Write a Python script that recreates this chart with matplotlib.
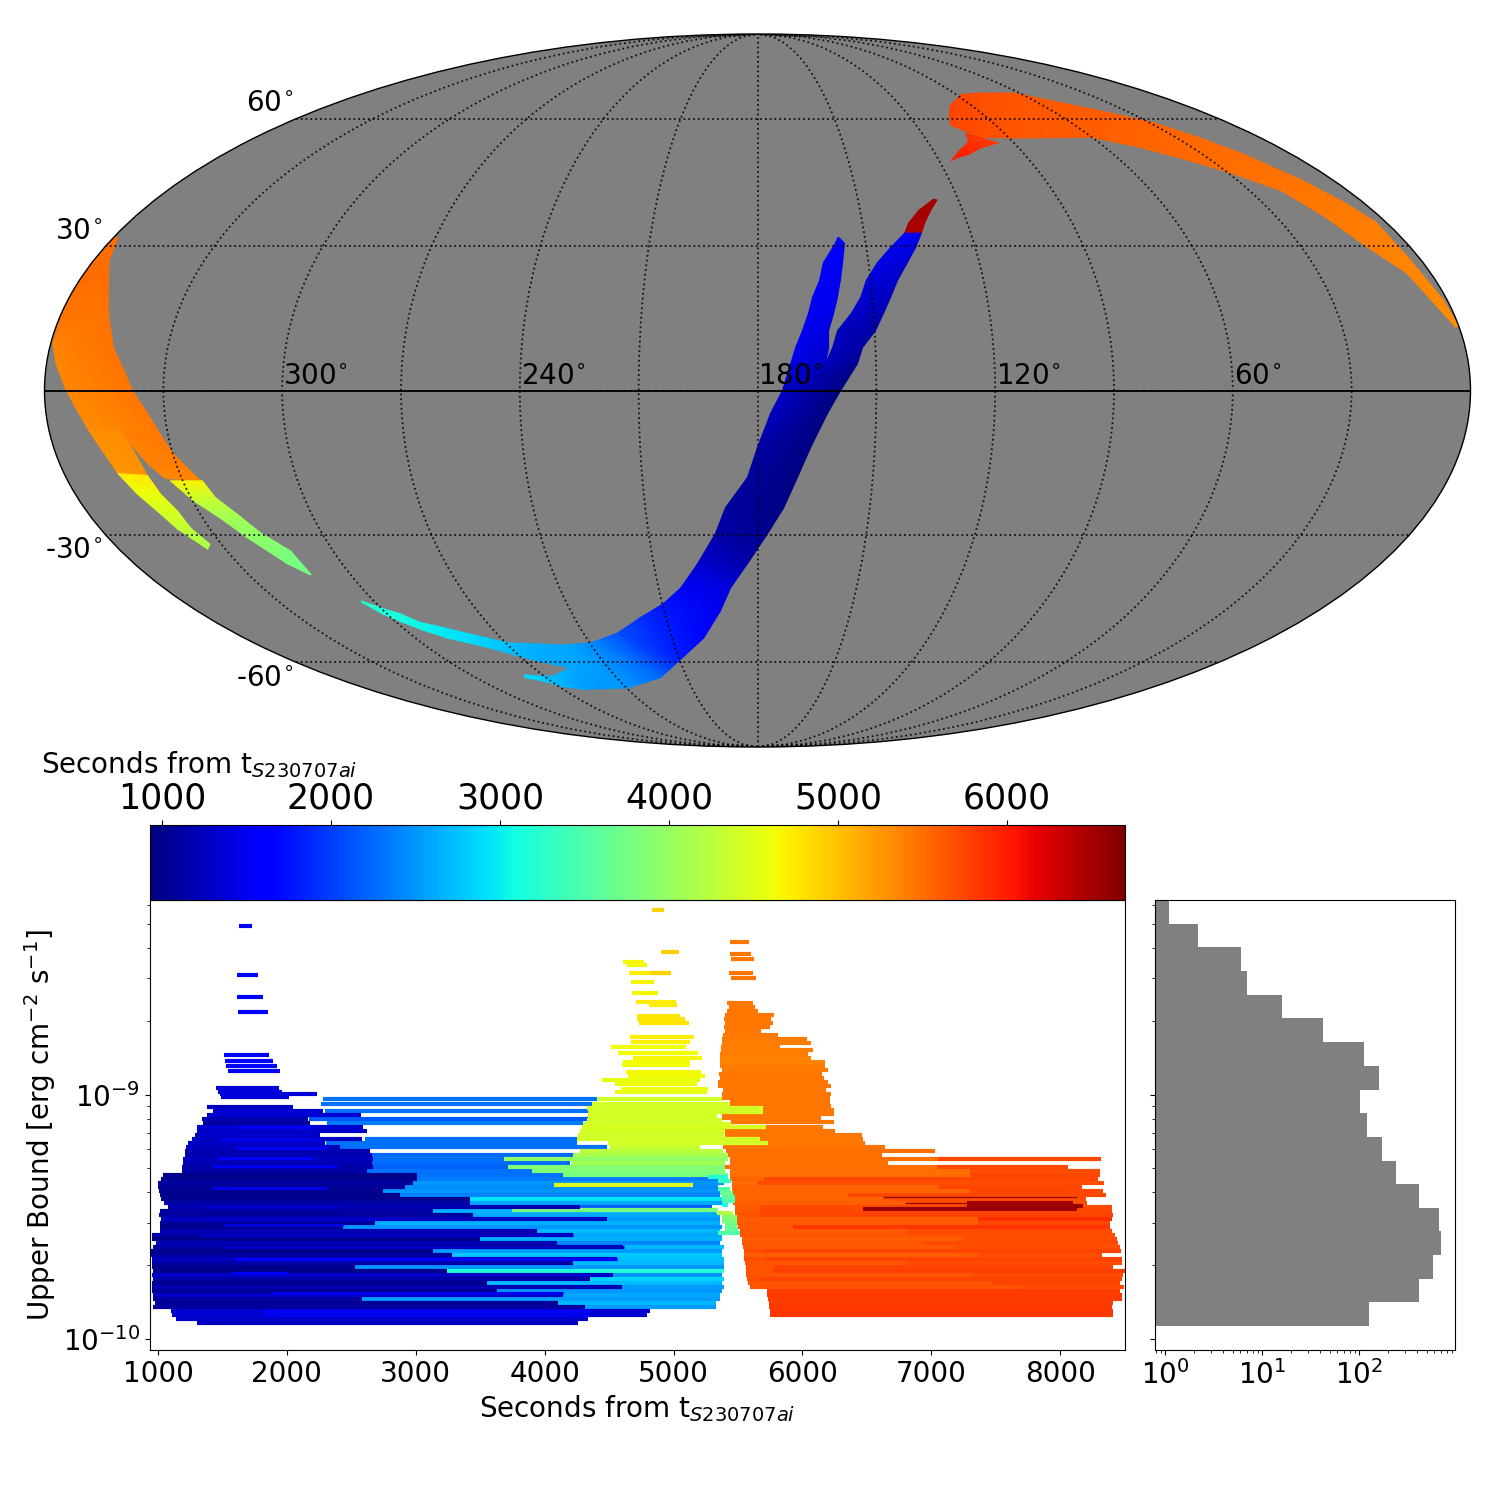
import numpy as np
import matplotlib
matplotlib.use("Agg")
import matplotlib.pyplot as plt
from matplotlib.cm import ScalarMappable
from matplotlib.colors import Normalize
from matplotlib.ticker import NullFormatter

T_MIN, T_MAX = 930, 6698
LABEL = "Seconds from t$_{S230707ai}$"

# ---------- sky patches: edge a / edge b (lon, lat in deg) and time at each edge ----------
tip_lon_a = [127.3, 132.9, 136.8, 138.6]
tip_lat_a = [40.5, 37.9, 35.1, 32.9]
tip_lon_b = [126.4, 129.4, 132.2, 133.9]
tip_lat_b = [40.3, 37.9, 35.1, 32.9]
tip_t_a = [6500, 6500, 6480, 6460]
tip_t_b = [6500, 6500, 6480, 6460]

rarm_lon_a = [138.6, 143.3, 147.6, 151.1, 153.0, 155.7, 159.5, 160.9, 162.8]
rarm_lat_a = [32.9, 29.8, 26.5, 22.8, 19.2, 15.9, 12.3, 8.8, 5.5]
rarm_lon_b = [133.9, 136.4, 139.5, 142.8, 145.2, 147.4, 149.8, 153.3, 154.7]
rarm_lat_b = [32.9, 29.8, 26.5, 22.8, 19.2, 15.9, 12.3, 8.8, 5.5]
rarm_t_a = [1560, 1500, 1450, 1400, 1350, 1300, 1250, 1250, 1250]
rarm_t_b = [1500, 1420, 1350, 1300, 1250, 1200, 1150, 1100, 1050]

larm_lon_a = [157.6, 158.4, 162.2, 163.5, 165.6, 166.8, 168.5, 170.3, 171.6]
larm_lat_a = [31.9, 30.7, 26.5, 22.8, 19.2, 15.9, 12.3, 8.8, 5.5]
larm_lon_b = [157.2, 155.9, 157.0, 158.0, 159.1, 160.3, 161.8, 161.9, 162.8]
larm_lat_b = [31.9, 30.7, 26.5, 22.8, 19.2, 15.9, 12.3, 8.8, 5.5]
larm_t_a = [1600, 1600, 1580, 1560, 1540, 1520, 1500, 1480, 1450]
larm_t_b = [1600, 1560, 1530, 1500, 1480, 1450, 1420, 1350, 1300]

main_lon_a = [171.6, 173.7, 176.7, 180.0, 182.6, 188.6, 191.6, 197.3, 203.3, 209.6, 218.4, 228.4, 239.7, 250.0]
main_lat_a = [5.5, 0.0, -4.7, -11.7, -17.9, -24.3, -29.8, -36.4, -41.9, -45.5, -48.8, -52.6, -55.0, -55.5]
main_lon_b = [154.7, 159.0, 162.3, 166.4, 169.6, 173.0, 177.2, 182.9, 188.2, 191.9, 198.9, 209.5, 221.4, 239.5]
main_lat_b = [5.5, 0.0, -4.7, -11.7, -17.9, -24.3, -29.8, -36.4, -41.9, -47.2, -53.8, -59.2, -64.2, -67.1]
main_t_a = [1450, 1300, 1250, 1150, 1100, 1100, 1150, 1350, 1560, 1750, 1900, 2120, 2450, 2600]
main_t_b = [1020, 950, 950, 940, 930, 960, 1000, 1150, 1400, 1500, 1620, 1800, 2250, 2500]

tail_lon_a = [250.0, 260.8, 269.0, 274.7, 280.2, 286.6, 292.3, 295.7, 300.0, 303.9]
tail_lat_a = [-55.5, -55.2, -55.0, -53.8, -52.6, -51.1, -49.9, -47.9, -46.5, -44.9]
tail_lon_b = [255.5, 263.8, 270.7, 276.8, 282.4, 288.7, 294.1, 297.9, 301.5, 304.2]
tail_lat_b = [-61.5, -60.0, -58.3, -56.5, -55.2, -53.8, -51.8, -49.9, -47.9, -45.1]
tail_t_a = [2600, 2650, 2750, 2830, 2900, 2980, 3050, 3120, 3180, 3250]
tail_t_b = [2580, 2600, 2700, 2800, 2880, 2960, 3030, 3100, 3160, 3230]

lobe_lon_a = [250.0, 255.5, 266.0, 271.5, 277.6]
lobe_lat_a = [-55.5, -61.5, -63.7, -63.7, -63.4]
lobe_lon_b = [239.5, 260.3, 268.8, 272.1, 279.0]
lobe_lat_b = [-67.1, -67.5, -66.7, -65.4, -64.2]
lobe_t_a = [2600, 2600, 2700, 2800, 2900]
lobe_t_b = [2500, 2550, 2680, 2780, 2900]

band_lon_a = [0.9, 3.8, 6.4, 11.8, 15.9, 20.3, 29.1, 38.4, 47.7, 60.0, 88.1, 100.3, 107.0, 103.7]
band_lat_a = [13.0, 17.9, 24.3, 29.8, 36.4, 42.4, 46.5, 49.8, 52.6, 55.2, 55.0, 55.2, 58.3, 61.0]
band_lon_b = [0.1, 1.0, 2.9, 2.9, 5.7, 9.8, 15.9, 21.6, 28.3, 40.7, 62.4, 78.5, 87.6, 98.6]
band_lat_b = [13.2, 18.6, 27.2, 35.3, 39.8, 44.9, 50.8, 55.0, 58.9, 62.2, 67.1, 67.1, 66.7, 63.7]
band_t_a = [5300, 5330, 5360, 5400, 5430, 5470, 5500, 5540, 5570, 5610, 5660, 5700, 5750, 5780]
band_t_b = [5300, 5330, 5360, 5400, 5430, 5470, 5500, 5540, 5570, 5610, 5640, 5700, 5750, 5780]

claw_lon_a = [104.1, 105.7, 111.3, 116.1]
claw_lat_a = [56.2, 54.0, 51.8, 49.4]
claw_lon_b = [95.5, 103.0, 108.6, 114.7]
claw_lat_b = [53.8, 52.6, 51.0, 49.9]
claw_t_a = [5820, 5880, 5950, 6000]
claw_t_b = [5800, 5880, 5950, 6000]

west_lon_a = [359.5, 359.7, 359.9, 359.8, 359.6, 357.6, 354.7, 352.8, 349.9]
west_lat_a = [32.0, 26.7, 21.3, 15.9, 9.9, 5.5, 0.4, -2.7, -8.2]
west_lon_b = [358.9, 355.6, 351.2, 347.9, 343.8, 339.8, 337.8, 334.3, 331.6]
west_lat_b = [32.0, 26.7, 21.3, 15.9, 8.8, 3.5, 0.0, -4.7, -9.7]
west_t_a = [5520, 5510, 5500, 5470, 5380, 5360, 5350, 5340, 5320]
west_t_b = [5520, 5510, 5500, 5470, 5470, 5470, 5450, 5440, 5430]

wleft_lon_a = [349.9, 348.1, 346.0]
wleft_lat_a = [-8.2, -11.7, -17.1]
wleft_lon_b = [341.7, 340.6, 338.6]
wleft_lat_b = [-7.8, -10.3, -17.5]
wleft_t_a = [5300, 5280, 5250]
wleft_t_b = [5330, 5310, 5280]

wright_lon_a = [341.7, 339.6, 337.3, 334.3]
wright_lat_a = [-7.8, -11.7, -15.0, -18.1]
wright_lon_b = [331.6, 329.9, 327.5, 325.4]
wright_lat_b = [-9.7, -13.0, -15.9, -18.6]
wright_t_a = [5400, 5390, 5370, 5340]
wright_t_b = [5430, 5420, 5400, 5360]

yleft_lon_a = [346.0, 343.6, 341.0, 338.9, 335.0]
yleft_lat_a = [-17.1, -21.4, -25.0, -28.8, -33.2]
yleft_lon_b = [338.6, 337.5, 335.6, 335.1, 333.2]
yleft_lat_b = [-17.5, -21.4, -25.0, -28.7, -32.1]
yleft_t = [4750, 4600, 4450, 4300, 4150]

yright_lon_a = [333.2, 329.7, 325.2, 321.4, 315.8, 311.9]
yright_lat_a = [-18.6, -22.8, -26.5, -30.7, -36.4, -38.9]
yright_lon_b = [324.9, 323.5, 320.0, 316.9, 312.0, 311.6]
yright_lat_b = [-18.6, -22.1, -25.7, -29.6, -33.6, -38.8]
yright_t = [4700, 4350, 4100, 3950, 3800, 3750]

# ---------- upper-bound rows: log10(flux), start, stop, colour time ----------
# red-orange rows
e_ub = [-9.262, -9.295, -9.311, -9.328, -9.344, -9.361, -9.377, -9.393, -9.410, -9.426, -9.443, -9.459, -9.475, -9.492,
        -9.508, -9.525, -9.541, -9.557, -9.574, -9.590, -9.607, -9.623, -9.639, -9.656, -9.672, -9.689, -9.705, -9.721,
        -9.738, -9.754, -9.770, -9.787, -9.803, -9.820, -9.836, -9.852, -9.869, -9.885, -9.902]
e_start = [7053, 7045, 7301, 7301, 5703, 5649, 7053, 7301, 6354, 6626, 6812, 5672, 5672, 5672,
           7363, 7363, 5928, 6812, 6812, 7248, 6929, 7185, 5687, 7363, 5710, 6812, 5772, 5772,
           7324, 5687, 7472, 7712, 5726, 5726, 5734, 5741, 5741, 5749, 5749]
e_stop = [8318, 8062, 8310, 8310, 8294, 8341, 8170, 8333, 8356, 8201, 8209, 8403, 8403, 8411,
          8403, 8387, 8387, 8403, 8426, 8442, 8450, 8465, 8473, 8325, 8481, 8481, 8411, 8504,
          8488, 8481, 8465, 8496, 8465, 8481, 8481, 8411, 8403, 8411, 8411]
e_t = [5750, 5750, 5700, 5750, 5750, 5700, 5750, 5750, 5750, 5700, 5700, 5720, 5750, 5760,
       5900, 5750, 5850, 5720, 5700, 5720, 5720, 5700, 5760, 5700, 5760, 5720, 5760, 5780,
       5720, 5760, 5760, 5720, 5800, 5800, 5800, 5800, 5820, 5820, 5820]

# orange rows
d_ub = [-8.373, -8.422, -8.443, -8.500, -8.520, -8.623, -8.639, -8.656, -8.672, -8.689, -8.705, -8.721, -8.738, -8.754,
        -8.770, -8.787, -8.803, -8.816, -8.832, -8.848, -8.865, -8.881, -8.898, -8.914, -8.930, -8.947, -8.963, -8.980,
        -8.996, -9.012, -9.029, -9.045, -9.061, -9.078, -9.094, -9.111, -9.131, -9.148, -9.164, -9.180, -9.197, -9.213,
        -9.230, -9.246, -9.262, -9.279, -9.295, -9.311, -9.328, -9.344, -9.361, -9.377, -9.393, -9.410, -9.426, -9.443,
        -9.459, -9.475, -9.492, -9.508, -9.525, -9.541, -9.557, -9.574, -9.590, -9.607, -9.623, -9.639, -9.656, -9.672,
        -9.689, -9.705, -9.721, -9.738, -9.754, -9.770, -9.787]
d_start = [5439, 5439, 5447, 5431, 5447, 5416, 5431, 5416, 5400, 5392, 5400, 5392, 5400, 5384,
           5377, 5377, 5369, 5369, 5361, 5361, 5361, 5361, 5377, 5354, 5361, 5346, 5346, 5384,
           5377, 5377, 5439, 5377, 5377, 5377, 5377, 5447, 5400, 5400, 5400, 5400, 5416, 5384,
           5408, 5423, 5439, 5439, 5400, 5439, 5439, 5439, 5454, 5454, 5454, 5454, 5454, 5462,
           5478, 5478, 5478, 5493, 5493, 5501, 5516, 5516, 5532, 5532, 5540, 5547, 5547, 5547,
           5555, 5563, 5563, 5563, 5571, 5578, 5594]
d_stop = [5586, 5602, 5625, 5617, 5641, 5617, 5633, 5656, 5780, 5757, 5772, 5749, 5679, 5811,
          6036, 6067, 5827, 6083, 6044, 6067, 6176, 6176, 6199, 6153, 6168, 6199, 6223, 6184,
          6223, 6215, 6215, 6223, 6246, 6246, 6145, 6246, 6160, 6254, 6463, 6471, 6486, 6641,
          7030, 6618, 7053, 6665, 7045, 7301, 7301, 5703, 5649, 7053, 7301, 6354, 6626, 6812,
          5672, 5672, 5672, 7363, 7363, 5928, 6812, 6812, 7248, 6929, 7185, 5687, 7363, 5710,
          6812, 5772, 5772, 7324, 5687, 7472, 7712]
d_t = [5450, 5450, 5450, 5450, 5450, 5450, 5450, 5450, 5450, 5450, 5450, 5450, 5450, 5430,
       5420, 5400, 5400, 5400, 5400, 5380, 5380, 5400, 5420, 5450, 5450, 5450, 5450, 5450,
       5450, 5450, 5450, 5450, 5450, 5450, 5450, 5450, 5450, 5450, 5450, 5450, 5450, 5470,
       5500, 5500, 5500, 5500, 5500, 5500, 5520, 5550, 5520, 5550, 5550, 5550, 5550, 5600,
       5600, 5620, 5650, 5600, 5620, 5620, 5620, 5650, 5600, 5650, 5620, 5700, 5600, 5700,
       5650, 5680, 5680, 5650, 5700, 5640, 5640]

# light-blue rows
b_ub = [-9.016, -9.037, -9.066, -9.098, -9.115, -9.180, -9.197, -9.213, -9.246, -9.262, -9.279, -9.295, -9.311, -9.328,
        -9.344, -9.361, -9.377, -9.393, -9.410, -9.426, -9.443, -9.459, -9.475, -9.492, -9.508, -9.525, -9.541, -9.557,
        -9.574, -9.590, -9.607, -9.623, -9.639, -9.656, -9.672, -9.689, -9.705, -9.721, -9.738, -9.754, -9.770, -9.787,
        -9.803, -9.820, -9.836, -9.852, -9.869]
b_start = [2283, 2265, 2296, 2172, 2309, 2607, 2300, 2412, 2660, 2668, 2660, 2668, 2622, 2600,
           3010, 2979, 2917, 2746, 2878, 3421, 3421, 4275, 3134, 3445, 4484, 2684, 2436, 3941,
           4220, 3498, 4096, 4609, 3134, 3281, 4562, 4220, 2529, 3243, 4531, 4352, 3553, 4601,
           3631, 4143, 2583, 4104, 4314]
b_stop = [4405, 4366, 4353, 4353, 4300, 4250, 4250, 4485, 4230, 3681, 4200, 3719, 3900, 5268,
          5346, 5392, 5346, 5361, 5361, 5377, 5377, 5299, 5330, 5361, 5361, 5361, 5377, 5361,
          5377, 5377, 5361, 5392, 5377, 5377, 5392, 5392, 5392, 5392, 5377, 5392, 5377, 5392,
          5377, 5361, 5361, 5330, 5330]
b_t = [2300, 2300, 2300, 2150, 2350, 2300, 2300, 2300, 2250, 2300, 2250, 2200, 2300, 2300,
       2350, 2500, 2450, 2500, 2400, 2950, 2600, 2200, 2650, 2600, 2550, 2650, 2500, 2700,
       2600, 2650, 2400, 2700, 2550, 2800, 2750, 2700, 2500, 3200, 2500, 2850, 2700, 2550,
       2500, 2600, 2550, 2700, 2550]

# yellow and green rows
c_ub = [-8.242, -8.414, -8.455, -8.467, -8.500, -8.500, -8.537, -8.582, -8.619, -8.631, -8.676, -8.689, -8.705, -8.762,
        -8.783, -8.803, -8.828, -8.848, -8.865, -8.877, -8.906, -8.922, -8.939, -8.955, -8.975, -8.988, -9.016, -9.037,
        -9.053, -9.070, -9.086, -9.102, -9.119, -9.131, -9.148, -9.164, -9.180, -9.197, -9.213, -9.230, -9.246, -9.262,
        -9.279, -9.295, -9.311, -9.328, -9.369, -9.471, -9.336, -9.352, -9.385, -9.402, -9.418, -9.434, -9.451, -9.484,
        -9.500, -9.516, -9.533, -9.549, -9.566]
c_start = [4834, 4903, 4608, 4640, 4655, 4826, 4670, 4678, 4709, 4810, 4717, 4717, 4733, 4663,
           4670, 4515, 4570, 4686, 4608, 4601, 4632, 4647, 4446, 4546, 4593, 4546, 4405, 4366,
           4329, 4337, 4337, 4329, 4298, 4290, 4275, 4259, 4251, 4492, 4508, 4275, 4221, 3681,
           4205, 3719, 3902, 4143, 4073, 3745, 5268, 5346, 5346, 5361, 5377, 5377, 5377, 5338,
           5377, 5377, 5400, 5400, 5346]
c_stop = [4927, 5043, 4771, 4795, 4981, 4981, 4849, 4880, 5020, 5027, 5051, 5090, 5121, 5160,
          5129, 5098, 5191, 5222, 5129, 5129, 5214, 5245, 5206, 5183, 5268, 5260, 5377, 5439,
          5695, 5695, 5338, 5377, 5447, 5718, 5400, 5392, 5672, 5734, 5206, 5384, 5423, 5423,
          5400, 5400, 5400, 5423, 5152, 5346, 5423, 5447, 5439, 5462, 5478, 5478, 5423, 5461,
          5493, 5493, 5493, 5500, 5516]
c_t = [4880, 4900, 4650, 4650, 4720, 4880, 4680, 4680, 4720, 4720, 4780, 4780, 4800, 4730,
       4700, 4620, 4640, 4660, 4640, 4620, 4650, 4630, 4560, 4590, 4610, 4580, 4400, 4420,
       4400, 4420, 4400, 4420, 4420, 4450, 4400, 4380, 4400, 4400, 4350, 4250, 4150, 3950,
       4100, 3880, 3850, 3800, 4500, 3800, 3200, 3300, 3500, 3700, 3600, 3500, 3100, 4200,
       3900, 3800, 3700, 3650, 3500]

# dark-blue rows
a_ub = [-8.307, -8.508, -8.598, -8.660, -8.836, -8.861, -8.881, -8.902, -8.971, -8.988, -8.996, -9.008,
        -9.049, -9.066, -9.082, -9.098, -9.115, -9.131, -9.148, -9.164, -9.180, -9.197, -9.213, -9.230,
        -9.246, -9.262, -9.279, -9.295, -9.311, -9.328, -9.344, -9.361, -9.377, -9.393, -9.410, -9.426,
        -9.443, -9.459, -9.475, -9.492, -9.508, -9.525, -9.541, -9.557, -9.574, -9.590, -9.607, -9.623,
        -9.639, -9.656, -9.672, -9.689, -9.705, -9.721, -9.738, -9.754, -9.770, -9.787, -9.803, -9.820,
        -9.836, -9.852, -9.869, -9.885, -9.902, -9.918, -9.934]
a_start = [1629, 1613, 1613, 1621, 1512, 1520, 1528, 1543, 1450, 1466, 1481, 1489,
           1378, 1430, 1378, 1339, 1346, 1303, 1303, 1290, 1264, 1230, 1217, 1210,
           1210, 1194, 1194, 1186, 1186, 1040, 1023, 1000, 1000, 1008, 1016, 1023,
           1050, 1078, 1016, 1008, 1023, 1016, 1016, 1016, 954, 954, 985, 960,
           946, 946, 950, 954, 954, 961, 954, 961, 954, 954, 954, 961,
           961, 977, 961, 1100, 1109, 1140, 1303]
a_stop = [1730, 1776, 1815, 1854, 1862, 1893, 1924, 1947, 1939, 1962, 2234, 2017,
          2050, 2283, 2573, 2167, 2180, 2590, 2622, 2257, 2583, 2296, 2412, 2645,
          2660, 2668, 2660, 2668, 2622, 3010, 3010, 2979, 2917, 2746, 2878, 3421,
          3421, 4275, 3134, 3445, 4484, 2684, 2436, 3941, 4220, 3498, 4096, 4609,
          3134, 3281, 4562, 4220, 2529, 3243, 4531, 4352, 3553, 4601, 3631, 4143,
          2583, 4104, 4314, 4818, 4795, 4337, 4259]
a_t = [1565, 1565, 1565, 1565, 1565, 1565, 1565, 1565, 1400, 1400, 1400, 1400,
       1250, 1350, 1350, 1200, 1100, 1350, 1300, 1300, 1250, 1300, 1250, 1200,
       1200, 1250, 1200, 1150, 1150, 1000, 1000, 1100, 1050, 1000, 1000, 1000,
       1150, 1200, 1100, 1100, 1250, 1100, 1000, 1200, 1150, 1000, 1200, 1150,
       1000, 1100, 1250, 1150, 1000, 1000, 1300, 1150, 1000, 1200, 1050, 1300,
       1100, 1050, 1100, 1350, 1350, 1300, 1250]

# brighter rows lying over the dark-blue block
a2_ub = [-9.131, -9.180, -9.217, -9.258, -9.291, -9.381, -9.459, -9.508, -9.533, -9.574, -9.623, -9.672, -9.730, -9.811, -9.885, -9.902]
a2_start = [1624, 1481, 1611, 1468, 1430, 1417, 1365, 1378, 1507, 1339, 1507, 1598, 1572, 1877, 1830, 1830]
a2_stop = [2206, 2257, 2309, 2206, 2387, 2309, 2387, 2904, 2438, 4223, 4612, 4560, 1999, 4146, 4353, 4353]
a2_t = [1560, 1480, 1560, 1560, 1500, 1450, 1350, 1300, 1400, 1300, 1250, 1560, 1560, 1450, 1550, 1550]

# dark-red rows
z_ub = [-9.443, -9.455, -9.467]
z_start = [7278, 7278, 6471]
z_stop = [8100, 8178, 8132]
z_t = [6500, 6550, 6550]
thin_ub = [-9.418, -9.441]
thin_start = [6626, 6797]
thin_stop = [8132, 7278]
thin_t = [6550, 6550]

# ---------- histogram ----------
hist_edges = [-8.201, -8.299, -8.393, -8.492, -8.590, -8.684, -8.783, -8.881, -8.980, -9.074,
              -9.172, -9.270, -9.365, -9.463, -9.557, -9.656, -9.754, -9.848, -9.947]
hist_counts = [1.1, 2.2, 6, 7, 16, 43, 113, 160, 102, 120, 172, 240, 415, 670, 700, 580, 415, 128]

lon_ticks = [300, 240, 180, 120, 60]
lat_ticks = [60, 30, -30, -60]

cmap = plt.get_cmap("jet")
norm = Normalize(T_MIN, T_MAX)
fig = plt.figure(figsize=(15, 15), dpi=100)

# ---------- sky ----------
sky = fig.add_axes([44.5 / 1500, 753 / 1500, 1426 / 1500, 713 / 1500], projection="mollweide")
sky.set_facecolor("#808080")
sky.set_longitude_grid(30)
sky.set_latitude_grid(30)
sky.set_longitude_grid_ends(90)
sky.grid(True, color="k", linestyle=":", linewidth=1.3, alpha=0.85)
sky.set_axisbelow(False)
sky.xaxis.set_major_formatter(NullFormatter())
sky.yaxis.set_major_formatter(NullFormatter())
sky.tick_params(length=0)


def patch(lon_a, lat_a, lon_b, lat_b, t_a, t_b):
    x = np.radians(180 - np.column_stack([lon_a, lon_b]))
    y = np.radians(np.column_stack([lat_a, lat_b]))
    sky.pcolormesh(x, y, np.column_stack([t_a, t_b]).astype(float),
                   shading="gouraud", cmap=cmap, norm=norm, zorder=1)


patch(tip_lon_a, tip_lat_a, tip_lon_b, tip_lat_b, tip_t_a, tip_t_b)
patch(rarm_lon_a, rarm_lat_a, rarm_lon_b, rarm_lat_b, rarm_t_a, rarm_t_b)
patch(larm_lon_a, larm_lat_a, larm_lon_b, larm_lat_b, larm_t_a, larm_t_b)
patch(main_lon_a, main_lat_a, main_lon_b, main_lat_b, main_t_a, main_t_b)
patch(tail_lon_a, tail_lat_a, tail_lon_b, tail_lat_b, tail_t_a, tail_t_b)
patch(lobe_lon_a, lobe_lat_a, lobe_lon_b, lobe_lat_b, lobe_t_a, lobe_t_b)
patch(band_lon_a, band_lat_a, band_lon_b, band_lat_b, band_t_a, band_t_b)
patch(claw_lon_a, claw_lat_a, claw_lon_b, claw_lat_b, claw_t_a, claw_t_b)
patch(west_lon_a, west_lat_a, west_lon_b, west_lat_b, west_t_a, west_t_b)
patch(wleft_lon_a, wleft_lat_a, wleft_lon_b, wleft_lat_b, wleft_t_a, wleft_t_b)
patch(wright_lon_a, wright_lat_a, wright_lon_b, wright_lat_b, wright_t_a, wright_t_b)
patch(yleft_lon_a, yleft_lat_a, yleft_lon_b, yleft_lat_b, yleft_t, yleft_t)
patch(yright_lon_a, yright_lat_a, yright_lon_b, yright_lat_b, yright_t, yright_t)

sky.plot(np.radians([-179.9, 179.9]), [0, 0], color="k", lw=1.3, zorder=6)
for lon in lon_ticks:
    sky.annotate(f"{lon}$^{{\\!\\circ}}$", xy=(np.radians(180 - lon), 0), xytext=(0.5, 0.5), textcoords="offset points",
                 ha="left", va="bottom", fontsize=20, annotation_clip=False, zorder=7)
for lat in lat_ticks:
    sky.annotate(f"{lat}$^{{\\!\\circ}}$", xy=(-np.pi, np.radians(lat)), xytext=(-2, 1 if lat > 0 else -1),
                 textcoords="offset points", ha="right", va="bottom" if lat > 0 else "top",
                 fontsize=20, annotation_clip=False)
for s in sky.spines.values():
    s.set_linewidth(1.0)

# ---------- scatter of time ranges ----------
ax = fig.add_axes([150 / 1500, 150 / 1500, 975 / 1500, 450 / 1500])


def rows(ub, start, stop, t, lw=3.0, z=2):
    ax.hlines(10.0 ** np.array(ub), start, stop, colors=cmap(norm(np.array(t, float))), linewidth=lw, zorder=z)


rows(e_ub, e_start, e_stop, e_t, z=2)
rows(d_ub, d_start, d_stop, d_t, z=3)
rows(b_ub, b_start, b_stop, b_t, z=4)
rows(c_ub, c_start, c_stop, c_t, z=5)
rows(a_ub, a_start, a_stop, a_t, z=6)
rows(a2_ub, a2_start, a2_stop, a2_t, lw=2.2, z=7)
rows(z_ub, z_start, z_stop, z_t, z=8)
rows(thin_ub, thin_start, thin_stop, thin_t, lw=0.9, z=8)

ax.set_yscale("log")
ax.set_xlim(938, 8503)
ax.set_ylim(9.01e-11, 6.29e-9)
ax.set_xticks([1000, 2000, 3000, 4000, 5000, 6000, 7000, 8000])
ax.set_yticks([1e-10, 1e-9])
ax.tick_params(axis="both", which="major", labelsize=20)
ax.yaxis.set_minor_formatter(NullFormatter())
ax.set_xlabel(LABEL, fontsize=20)
ax.set_ylabel("Upper Bound [erg cm$^{-2}$ s$^{-1}$]", fontsize=20)

# ---------- colour bar ----------
cax = fig.add_axes([150 / 1500, 600 / 1500, 975 / 1500, 75 / 1500])
sm = ScalarMappable(norm=norm, cmap=cmap)
cb = fig.colorbar(sm, cax=cax, orientation="horizontal")
cb.set_ticks([1000, 2000, 3000, 4000, 5000, 6000])
cax.xaxis.set_ticks_position("top")
cax.tick_params(labelsize=25)
fig.text(41 / 1500, 1 - 773 / 1500, LABEL, fontsize=20, ha="left", va="baseline")

# ---------- histogram ----------
hax = fig.add_axes([1155 / 1500, 150 / 1500, 300 / 1500, 450 / 1500])
edges = 10.0 ** np.array(hist_edges)
hax.barh(edges[1:], hist_counts, height=edges[:-1] - edges[1:], left=0.01, align="edge", color="#808080")
hax.set_xscale("log")
hax.set_yscale("log")
hax.set_xlim(0.789, 977)
hax.set_ylim(9.01e-11, 6.29e-9)
hax.set_xticks([1, 10, 100])
hax.set_yticks([1e-10, 1e-9])
hax.tick_params(axis="x", labelsize=20)
hax.yaxis.set_major_formatter(NullFormatter())
hax.yaxis.set_minor_formatter(NullFormatter())

fig.savefig("out.png", dpi=100)
